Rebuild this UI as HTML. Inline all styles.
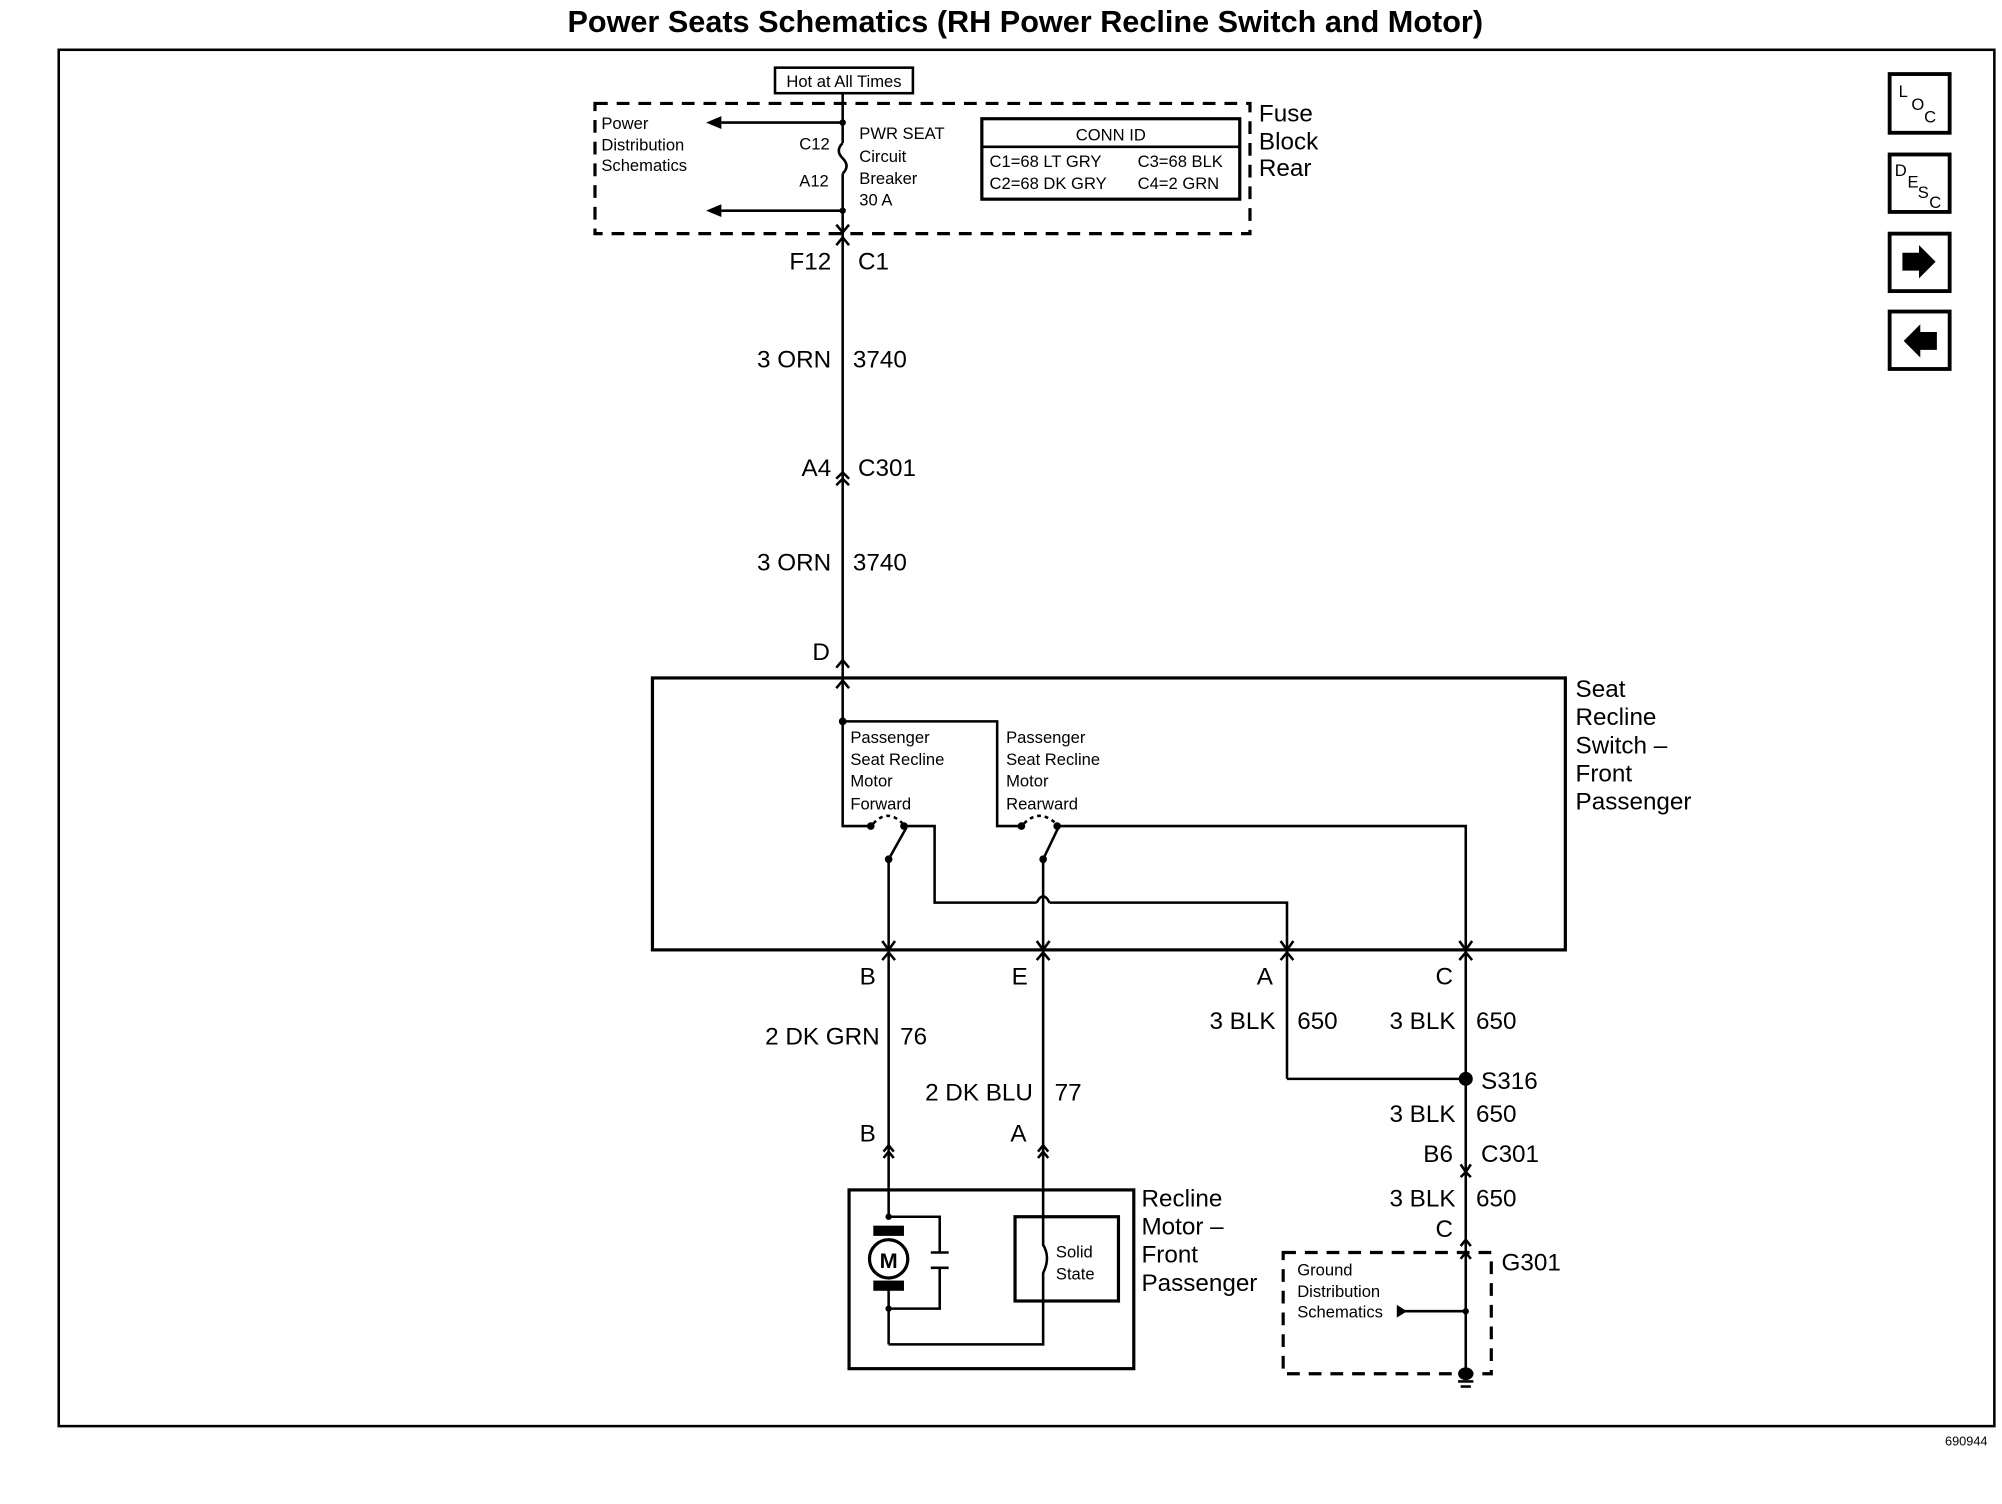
<!DOCTYPE html>
<html><head><meta charset="utf-8"><style>
html,body{margin:0;padding:0;background:#fff;}
svg{display:block;}
text{font-family:"Liberation Sans",Arial,sans-serif;fill:#000;}
</style></head><body>
<svg width="2002" height="1504" viewBox="0 0 1568 1178" preserveAspectRatio="none" xmlns="http://www.w3.org/2000/svg">
<g stroke="#000" fill="none" stroke-width="2">
<rect x="46" y="39" width="1516" height="1078"/>
<rect x="1480" y="58" width="47" height="46" stroke-width="3"/>
<rect x="1480" y="121" width="47" height="45" stroke-width="3"/>
<rect x="1480" y="183" width="47" height="45" stroke-width="3"/>
<rect x="1480" y="244" width="47" height="45" stroke-width="3"/>
<rect x="466" y="81" width="513" height="102" stroke-dasharray="10,7" stroke-width="2.5"/>
<rect x="607" y="53" width="108" height="20" stroke-width="2"/>
<rect x="769" y="93" width="202" height="63" stroke-width="2.5"/>
<line x1="769" y1="115" x2="971" y2="115"/>
<line x1="660" y1="73" x2="660" y2="112"/>
<path d="M660 112 q-6 6 0 12 q6 6 0 12"/>
<line x1="660" y1="136" x2="660" y2="531"/>
<line x1="660" y1="96" x2="565" y2="96"/>
<line x1="660" y1="165" x2="565" y2="165"/>
<path d="M655 176 L660 182 L665 176"/>
<path d="M655 192 L660 186 L665 192"/>
<path d="M655 375 L660 370 L665 375"/>
<path d="M655 380 L660 375 L665 380"/>
<path d="M655 523 L660 517 L665 523"/>
<path d="M655 539 L660 533 L665 539"/>
<rect x="511" y="531" width="715" height="213" stroke-width="2.5"/>
<polyline points="660,531 660,647 682,647"/>
<polyline points="660,565 781,565 781,647 800,647"/>
<path d="M684 645 Q695 633 707 645" stroke-dasharray="3,3"/>
<path d="M802 645 Q814 633 827 645" stroke-dasharray="3,3"/>
<line x1="696" y1="673" x2="710" y2="648"/>
<line x1="817" y1="673" x2="829" y2="648"/>
<polyline points="708,647 732,647 732,707 812,707"/>
<path d="M812 707 q5 -10 10 0"/>
<polyline points="822,707 1008,707 1008,744"/>
<polyline points="828,647 1148,647 1148,744"/>
<line x1="696" y1="673" x2="696" y2="930"/>
<line x1="817" y1="673" x2="817" y2="930"/>
<path d="M691 737 L696 744 L701 737 M691 752 L696 746 L701 752"/>
<path d="M812 737 L817 744 L822 737 M812 752 L817 746 L822 752"/>
<path d="M1003 737 L1008 744 L1013 737 M1003 752 L1008 746 L1013 752"/>
<path d="M1143 737 L1148 744 L1153 737 M1143 752 L1148 746 L1153 752"/>
<line x1="1008" y1="744" x2="1008" y2="845"/>
<line x1="1008" y1="845" x2="1148" y2="845"/>
<line x1="1148" y1="744" x2="1148" y2="1075"/>
<path d="M692 902 L696 897 L700 902 M692 907 L696 902 L700 907"/>
<path d="M813 902 L817 897 L821 902 M813 907 L817 902 L821 907"/>
<path d="M1144 912 L1148 918 L1152 912 M1144 922 L1148 918 L1152 922"/>
<path d="M1144 976 L1148 971 L1152 976 M1144 986 L1148 981 L1152 986"/>
<rect x="665" y="932" width="223" height="140" stroke-width="2.5"/>
<polyline points="696,930 696,953 736,953 736,981"/>
<polyline points="736,993 736,1025 696,1025"/>
<line x1="696" y1="1010" x2="696" y2="1053"/>
<line x1="729" y1="981" x2="743" y2="981"/>
<line x1="729" y1="993" x2="743" y2="993"/>
<polyline points="696,1053 817,1053 817,1018"/>
<rect x="795" y="953" width="81" height="66" stroke-width="2.5"/>
<path d="M817 930 L817 975 q6 10 0 22 L817 1019"/>
<rect x="1005" y="981" width="163" height="95" stroke-dasharray="10,7" stroke-width="2.5"/>
<line x1="1100" y1="1027" x2="1148" y2="1027"/>
<line x1="1142" y1="1082" x2="1154" y2="1082"/>
<line x1="1144" y1="1086" x2="1152" y2="1086"/>
</g>
<g fill="#000">
<polygon points="553,96 565,91 565,101"/>
<polygon points="553,165 565,160 565,170"/>
<circle cx="660" cy="565" r="3"/><circle cx="660" cy="96" r="2.5"/><circle cx="660" cy="165" r="2.5"/>
<circle cx="682" cy="647" r="3"/><circle cx="708" cy="647" r="3"/><circle cx="696" cy="673" r="3"/>
<circle cx="800" cy="647" r="3"/><circle cx="828" cy="647" r="3"/><circle cx="817" cy="673" r="3"/>
<circle cx="1148" cy="845" r="5.5"/>
<circle cx="696" cy="953" r="2.5"/><circle cx="696" cy="1025" r="2.5"/>
<circle cx="1148" cy="1027" r="2.5"/>
<ellipse cx="1148" cy="1076" rx="6" ry="5"/>
<polygon points="1094,1022 1102,1027 1094,1032"/>
<polygon points="1490,198 1503,198 1503,192 1516,205 1503,218 1503,212 1490,212"/>
<polygon points="1517,260 1504,260 1504,254 1491,267 1504,280 1504,274 1517,274"/>
</g>
<rect x="684" y="960" width="24" height="8" fill="#000"/>
<rect x="684" y="1003" width="24" height="8" fill="#000"/>
<circle cx="696" cy="986" r="15" fill="#fff" stroke="#000" stroke-width="2.5"/>
<text x="696" y="993" font-size="17" font-weight="bold" text-anchor="middle">M</text>

<text x="803" y="25" font-size="24" font-weight="bold" text-anchor="middle">Power Seats Schematics (RH Power Recline Switch and Motor)</text>
<text x="1540" y="1132" font-size="10" text-anchor="middle">690944</text>
<g font-size="13"><text x="1487" y="76">L</text><text x="1497" y="86">O</text><text x="1507" y="96">C</text>
<text x="1484" y="138">D</text><text x="1494" y="147">E</text><text x="1502" y="155">S</text><text x="1511" y="163">C</text></g>
<g font-size="13"><text x="661" y="68" text-anchor="middle">Hot at All Times</text>
<text x="471" y="101">Power</text><text x="471" y="118">Distribution</text><text x="471" y="134">Schematics</text>
<text x="626" y="117">C12</text><text x="626" y="146">A12</text>
<text x="673" y="109">PWR SEAT</text><text x="673" y="127">Circuit</text><text x="673" y="144">Breaker</text><text x="673" y="161">30 A</text>
<text x="870" y="110" text-anchor="middle">CONN ID</text>
<text x="775" y="131">C1=68 LT GRY</text><text x="891" y="131">C3=68 BLK</text>
<text x="775" y="148">C2=68 DK GRY</text><text x="891" y="148">C4=2 GRN</text>
<text x="666" y="582">Passenger</text><text x="666" y="599">Seat Recline</text><text x="666" y="616">Motor</text><text x="666" y="634">Forward</text>
<text x="788" y="582">Passenger</text><text x="788" y="599">Seat Recline</text><text x="788" y="616">Motor</text><text x="788" y="634">Rearward</text>
<text x="827" y="985">Solid</text><text x="827" y="1002">State</text>
<text x="1016" y="999">Ground</text><text x="1016" y="1016">Distribution</text><text x="1016" y="1032">Schematics</text></g>
<g font-size="19"><text x="986" y="95">Fuse</text><text x="986" y="117">Block</text><text x="986" y="138">Rear</text>
<text x="1234" y="546">Seat</text><text x="1234" y="568">Recline</text><text x="1234" y="590">Switch –</text><text x="1234" y="612">Front</text><text x="1234" y="634">Passenger</text>
<text x="894" y="945">Recline</text><text x="894" y="967">Motor –</text><text x="894" y="989">Front</text><text x="894" y="1011">Passenger</text>
<g text-anchor="end"><text x="651" y="211">F12</text><text x="651" y="288">3 ORN</text><text x="651" y="373">A4</text><text x="651" y="447">3 ORN</text><text x="650" y="517">D</text>
<text x="686" y="771">B</text><text x="805" y="771">E</text><text x="997" y="771">A</text><text x="1138" y="771">C</text>
<text x="689" y="818">2 DK GRN</text><text x="809" y="862">2 DK BLU</text><text x="999" y="806">3 BLK</text><text x="1140" y="806">3 BLK</text>
<text x="1140" y="879">3 BLK</text><text x="1138" y="910">B6</text><text x="1140" y="945">3 BLK</text><text x="1138" y="969">C</text>
<text x="686" y="894">B</text><text x="804" y="894">A</text></g>
<text x="672" y="211">C1</text><text x="668" y="288">3740</text><text x="672" y="373">C301</text><text x="668" y="447">3740</text>
<text x="705" y="818">76</text><text x="826" y="862">77</text><text x="1016" y="806">650</text><text x="1156" y="806">650</text>
<text x="1160" y="853">S316</text><text x="1156" y="879">650</text><text x="1160" y="910">C301</text><text x="1156" y="945">650</text><text x="1176" y="995">G301</text></g>
</svg>
</body></html>
